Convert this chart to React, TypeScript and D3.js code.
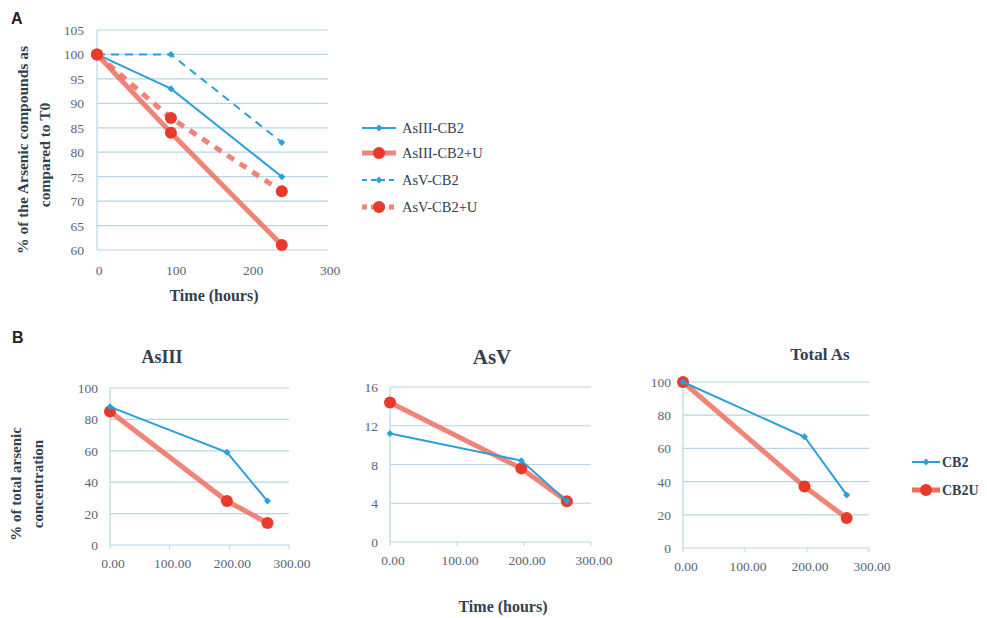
import React from "react";
import * as d3 from "d3";

const timeA = [0, 96, 240];
const asIII_CB2 = [100, 93, 75];
const asIII_CB2U = [100, 84, 61];
const asV_CB2 = [100, 100, 82];
const asV_CB2U = [100, 87, 72];
const ticksA_y = [60, 65, 70, 75, 80, 85, 90, 95, 100, 105];
const ticksA_x = [0, 100, 200, 300];
const legendA = ["AsIII-CB2", "AsIII-CB2+U", "AsV-CB2", "AsV-CB2+U"];

const timeB = [0, 196, 264];
const bAsIII_CB2 = [88, 59, 28];
const bAsIII_CB2U = [85, 28, 14];
const bAsV_CB2 = [11.2, 8.4, 4.2];
const bAsV_CB2U = [14.4, 7.6, 4.2];
const bTot_CB2 = [100, 67, 32];
const bTot_CB2U = [100, 37, 18];
const ticksB_x = [0, 100, 200, 300];
const legendB = ["CB2", "CB2U"];

const BLUE = "#2b9fd9";
const REDL = "#ee6f5f";
const REDM = "#e8392a";
const GRID = "#b7d5e6";
const TXT = "#33404f";
const TICK = "#56667a";
const FONT = "'Liberation Serif', 'DejaVu Serif', serif";

function Diamond({ x, y, s = 3.5 }: { x: number; y: number; s?: number }) {
  return <path d={`M${x},${y - s}L${x + s},${y}L${x},${y + s}L${x - s},${y}Z`} fill={BLUE} />;
}

function SubPanel(props: {
  x0: number; x1: number; y0: number; y1: number; ymax: number; yticks: number[];
  cb2: number[]; cb2u: number[]; title: string; tx: number; ty: number; tsize: number;
}) {
  const { x0, x1, y0, y1, ymax, yticks, cb2, cb2u, title, tx, ty, tsize } = props;
  const x = d3.scaleLinear().domain([0, 300]).range([x0, x1]);
  const y = d3.scaleLinear().domain([0, ymax]).range([y0, y1]);
  const line = d3.line<number>().x((_, i) => x(timeB[i])).y((d) => y(d));
  return (
    <g>
      <text x={tx} y={ty} textAnchor="middle" fontWeight="bold" fontSize={tsize} fill={TXT}>{title}</text>
      {yticks.map((t) => (
        <g key={t}>
          <line x1={x0} x2={x1} y1={y(t)} y2={y(t)} stroke={GRID} strokeWidth={1.2} />
          <text x={x0 - 12} y={y(t) + 5} textAnchor="end" fontSize={13.5} fill={TICK}>{t}</text>
        </g>
      ))}
      <line x1={x0} x2={x0} y1={y0} y2={y1} stroke={GRID} strokeWidth={1.2} />
      {ticksB_x.map((t) => (
        <g key={t}>
          <line x1={x(t)} x2={x(t)} y1={y0} y2={y0 + 4} stroke={GRID} />
          <text x={x(t) + 3} y={y0 + 23} textAnchor="middle" fontSize={13.5} fill={TICK}>{t.toFixed(2)}</text>
        </g>
      ))}
      <path d={line(cb2u) || ""} fill="none" stroke={REDL} strokeWidth={5} strokeOpacity={0.85} />
      {cb2u.map((v, i) => <circle key={i} cx={x(timeB[i])} cy={y(v)} r={6} fill={REDM} />)}
      <path d={line(cb2) || ""} fill="none" stroke={BLUE} strokeWidth={2} />
      {cb2.map((v, i) => <Diamond key={i} x={x(timeB[i])} y={y(v)} />)}
    </g>
  );
}

export default function App() {
  const xA = d3.scaleLinear().domain([0, 300]).range([97, 328]);
  const yA = d3.scaleLinear().domain([60, 105]).range([250, 30]);
  const lineA = d3.line<number>().x((_, i) => xA(timeA[i])).y((d) => yA(d));
  const seriesA = [
    { data: asIII_CB2, color: BLUE, w: 2, dash: "", red: false },
    { data: asIII_CB2U, color: REDL, w: 5, dash: "", red: true },
    { data: asV_CB2, color: BLUE, w: 2, dash: "8,6", red: false },
    { data: asV_CB2U, color: REDL, w: 5, dash: "8,7", red: true },
  ];
  const legY = [128, 153, 180, 207];
  return (
    <svg width={987} height={618} style={{ position: "absolute", left: 0, top: 0, background: "#fff" }} fontFamily={FONT}>
      <rect width={987} height={618} fill="#fff" />
      <text x={11} y={24} fontWeight="bold" fontSize={16} fontFamily="'Liberation Sans', Arial, sans-serif" fill="#222">A</text>
      {ticksA_y.map((t) => (
        <g key={t}>
          <line x1={97} x2={328} y1={yA(t)} y2={yA(t)} stroke={GRID} strokeWidth={1.2} />
          <text x={84} y={yA(t) + 5} textAnchor="end" fontSize={13.5} fill={TICK}>{t}</text>
        </g>
      ))}
      <line x1={97} x2={97} y1={yA(105)} y2={yA(60)} stroke={GRID} strokeWidth={1.2} />
      {ticksA_x.map((t) => (
        <text key={t} x={xA(t) + 2} y={275} textAnchor="middle" fontSize={13.5} fill={TICK}>{t}</text>
      ))}
      <text x={214} y={301} textAnchor="middle" fontWeight="bold" fontSize={16} fill={TXT}>Time (hours)</text>
      <text transform="translate(28,150) rotate(-90)" textAnchor="middle" fontWeight="bold" fontSize={15.5} fill={TXT}>% of the Arsenic compounds as</text>
      <text transform="translate(50,155) rotate(-90)" textAnchor="middle" fontWeight="bold" fontSize={15.5} fill={TXT}>compared to T0</text>
      {seriesA.map((s, k) => (
        <g key={k}>
          <path d={lineA(s.data) || ""} fill="none" stroke={s.color} strokeWidth={s.w} strokeDasharray={s.dash} strokeOpacity={s.red ? 0.85 : 1} />
          {s.data.map((v, i) => s.red
            ? <circle key={i} cx={xA(timeA[i])} cy={yA(v)} r={6} fill={REDM} />
            : <Diamond key={i} x={xA(timeA[i])} y={yA(v)} />)}
        </g>
      ))}
      {seriesA.map((s, k) => (
        <g key={"l" + k}>
          <line x1={362} x2={396} y1={legY[k]} y2={legY[k]} stroke={s.color} strokeWidth={s.w} strokeDasharray={s.dash ? "5,4" : ""} strokeOpacity={s.red ? 0.85 : 1} />
          {s.red ? <circle cx={379} cy={legY[k]} r={6} fill={REDM} /> : <Diamond x={379} y={legY[k]} />}
          <text x={402} y={legY[k] + 5} fontSize={14.5} fill={TXT}>{legendA[k]}</text>
        </g>
      ))}

      <text x={12} y={343} fontWeight="bold" fontSize={16} fontFamily="'Liberation Sans', Arial, sans-serif" fill="#222">B</text>
      <text transform="translate(21,484) rotate(-90)" textAnchor="middle" fontWeight="bold" fontSize={15} fill={TXT}>% of total arsenic</text>
      <text transform="translate(43,484) rotate(-90)" textAnchor="middle" fontWeight="bold" fontSize={15} fill={TXT}>concentration</text>
      <SubPanel x0={110} x1={289} y0={545} y1={388} ymax={100} yticks={[0, 20, 40, 60, 80, 100]}
        cb2={bAsIII_CB2} cb2u={bAsIII_CB2U} title="AsIII" tx={162} ty={363} tsize={18} />
      <SubPanel x0={390} x1={591} y0={542} y1={387} ymax={16} yticks={[0, 4, 8, 12, 16]}
        cb2={bAsV_CB2} cb2u={bAsV_CB2U} title="AsV" tx={492} ty={364} tsize={21} />
      <SubPanel x0={683} x1={869} y0={548} y1={382} ymax={100} yticks={[0, 20, 40, 60, 80, 100]}
        cb2={bTot_CB2} cb2u={bTot_CB2U} title="Total As" tx={820} ty={360} tsize={17} />
      <text x={503} y={612} textAnchor="middle" fontWeight="bold" fontSize={16} fill={TXT}>Time (hours)</text>
      {legendB.map((n, k) => {
        const ly = 462 + k * 28;
        return (
          <g key={n}>
            <line x1={912} x2={940} y1={ly} y2={ly} stroke={k === 0 ? BLUE : REDL} strokeWidth={k === 0 ? 2 : 5} />
            {k === 0 ? <Diamond x={926} y={ly} /> : <circle cx={926} cy={ly} r={6} fill={REDM} />}
            <text x={942} y={ly + 5} fontWeight="bold" fontSize={14} fill={TXT}>{n}</text>
          </g>
        );
      })}
    </svg>
  );
}
